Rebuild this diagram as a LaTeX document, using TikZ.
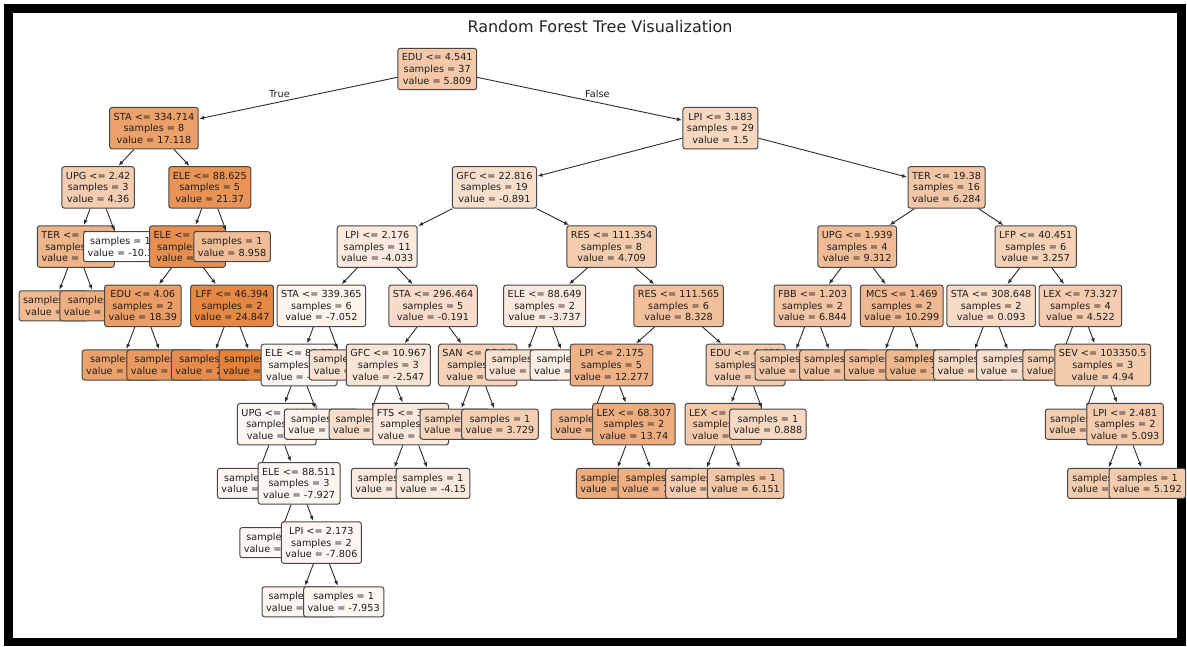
\documentclass[tikz,border=0pt]{standalone}
\usepackage{fontspec}
\setmainfont{DejaVu Sans}
\usetikzlibrary{arrows.meta}
\definecolor{orng}{RGB}{229,129,57}
\definecolor{edgec}{RGB}{45,45,45}
\definecolor{txtc}{RGB}{30,30,30}
\tikzset{
  tbox/.style={draw=black!72, line width=1pt, rounded corners=2.5pt, align=center,
    inner xsep=4pt, inner ysep=5.5pt, font=\fontsize{9.7}{11.6}\selectfont, text=txtc},
  tedge/.style={draw=edgec, line width=0.9pt, -{Latex[length=5pt,width=4pt]}, shorten >=0.5pt},
  elabel/.style={font=\fontsize{9.7}{11.6}\selectfont, text=txtc, inner sep=0pt},
}
% #1 name, #2 parent, #3 grid x, #4 level, #5 value (colour), #6 text
\newcommand{\tnode}[6]{%
  \pgfmathsetmacro\tpct{max(0,min(100,(#5+10.3)/36.8*100))}%
  \node[tbox,fill=orng!\tpct!white] (#1) at ({53.5+44.65*#3},{69+59.2*#4}) {#6};%
  \ifx\relax#2\relax\else\draw[tedge] (#2) -- (#1);\fi
}
\begin{document}
\begin{tikzpicture}[x=1pt,y=-1pt]
\fill[white] (0,0) rectangle (1187,646);
\useasboundingbox (0,0) rectangle (1187,646);
\draw[line width=8.5pt] (8.5,8.5) rectangle (1181.5,642);
\node[font=\fontsize{16}{19}\selectfont, text=black!85, anchor=base] (title) at (600,32) {Random Forest Tree Visualization};

\tnode{root}{}{8.59375}{0}{5.809}{EDU <= 4.541\\samples = 37\\value = 5.809}
\tnode{sta1}{root}{2.25}{1}{17.118}{STA <= 334.714\\samples = 8\\value = 17.118}
\tnode{upg1}{sta1}{1}{2}{4.36}{UPG <= 2.42\\samples = 3\\value = 4.36}
\tnode{ter1}{upg1}{0.5}{3}{11.64}{TER <= 18.95\\samples = 2\\value = 11.64}
\tnode{lf1}{ter1}{0}{4}{9.8}{samples = 1\\value = 9.8}
\tnode{lf2}{ter1}{1}{4}{13.48}{samples = 1\\value = 13.48}
\tnode{lf3}{upg1}{1.5}{3}{-10.3}{samples = 1\\value = -10.3}
\tnode{ele1}{sta1}{3.5}{2}{21.37}{ELE <= 88.625\\samples = 5\\value = 21.37}
\tnode{ele2}{ele1}{3}{3}{22.6}{ELE <= 87.93\\samples = 4\\value = 22.6}
\tnode{edu2}{ele2}{2}{4}{18.39}{EDU <= 4.06\\samples = 2\\value = 18.39}
\tnode{lf4}{edu2}{1.5}{5}{17.23}{samples = 1\\value = 17.23}
\tnode{lf5}{edu2}{2.5}{5}{19.55}{samples = 1\\value = 19.55}
\tnode{lff}{ele2}{4}{4}{24.847}{LFF <= 46.394\\samples = 2\\value = 24.847}
\tnode{lf6}{lff}{3.5}{5}{23.19}{samples = 1\\value = 23.19}
\tnode{lf7}{lff}{4.5}{5}{26.5}{samples = 1\\value = 26.5}
\tnode{lf8}{ele1}{4}{3}{8.958}{samples = 1\\value = 8.958}
\tnode{lpi1}{root}{14.9375}{1}{1.5}{LPI <= 3.183\\samples = 29\\value = 1.5}
\tnode{gfc1}{lpi1}{9.875}{2}{-0.891}{GFC <= 22.816\\samples = 19\\value = -0.891}
\tnode{lpi2}{gfc1}{7.25}{3}{-4.033}{LPI <= 2.176\\samples = 11\\value = -4.033}
\tnode{sta2}{lpi2}{6}{4}{-7.052}{STA <= 339.365\\samples = 6\\value = -7.052}
\tnode{ele3}{sta2}{5.5}{5}{-7.52}{ELE <= 88.37\\samples = 5\\value = -7.52}
\tnode{upg2}{ele3}{5}{6}{-7.8}{UPG <= 2.085\\samples = 4\\value = -7.8}
\tnode{lf9}{upg2}{4.5}{7}{-7.61}{samples = 1\\value = -7.61}
\tnode{ele4}{upg2}{5.5}{7}{-7.927}{ELE <= 88.511\\samples = 3\\value = -7.927}
\tnode{lf10}{ele4}{5}{8}{-8.14}{samples = 1\\value = -8.14}
\tnode{lpi3}{ele4}{6}{8}{-7.806}{LPI <= 2.173\\samples = 2\\value = -7.806}
\tnode{lf11}{lpi3}{5.5}{9}{-7.66}{samples = 1\\value = -7.66}
\tnode{lf12}{lpi3}{6.5}{9}{-7.953}{samples = 1\\value = -7.953}
\tnode{lf13}{ele3}{6}{6}{-6.34}{samples = 1\\value = -6.34}
\tnode{lf14}{sta2}{6.5}{5}{-1.2}{samples = 1\\value = -1.2}
\tnode{sta3}{lpi2}{8.5}{4}{-0.191}{STA <= 296.464\\samples = 5\\value = -0.191}
\tnode{gfc2}{sta3}{7.5}{5}{-2.547}{GFC <= 10.967\\samples = 3\\value = -2.547}
\tnode{lf15}{gfc2}{7}{6}{-0.46}{samples = 1\\value = -0.46}
\tnode{fts}{gfc2}{8}{6}{-4.02}{FTS <= 36.82\\samples = 2\\value = -4.02}
\tnode{lf16}{fts}{7.5}{7}{-3.87}{samples = 1\\value = -3.87}
\tnode{lf17}{fts}{8.5}{7}{-4.15}{samples = 1\\value = -4.15}
\tnode{san}{sta3}{9.5}{5}{2.85}{SAN <= 53.26\\samples = 2\\value = 2.85}
\tnode{lf18}{san}{9}{6}{1.94}{samples = 1\\value = 1.94}
\tnode{lf19}{san}{10}{6}{3.729}{samples = 1\\value = 3.729}
\tnode{res1}{gfc1}{12.5}{3}{4.709}{RES <= 111.354\\samples = 8\\value = 4.709}
\tnode{ele5}{res1}{11}{4}{-3.737}{ELE <= 88.649\\samples = 2\\value = -3.737}
\tnode{lf20}{ele5}{10.5}{5}{-1.95}{samples = 1\\value = -1.95}
\tnode{lf21}{ele5}{11.5}{5}{-5.52}{samples = 1\\value = -5.52}
\tnode{res2}{res1}{14}{4}{8.328}{RES <= 111.565\\samples = 6\\value = 8.328}
\tnode{lpi4}{res2}{12.5}{5}{12.277}{LPI <= 2.175\\samples = 5\\value = 12.277}
\tnode{lf22}{lpi4}{12}{6}{10.36}{samples = 1\\value = 10.36}
\tnode{lex1}{lpi4}{13}{6}{13.74}{LEX <= 68.307\\samples = 2\\value = 13.74}
\tnode{lf23}{lex1}{12.5}{7}{14.5}{samples = 1\\value = 14.5}
\tnode{lf24}{lex1}{13.5}{7}{12.98}{samples = 1\\value = 12.98}
\tnode{edu3}{res2}{15.5}{5}{4.82}{EDU <= 4.655\\samples = 2\\value = 4.82}
\tnode{lex2}{edu3}{15}{6}{5.57}{LEX <= 70.64\\samples = 2\\value = 5.57}
\tnode{lf25}{lex2}{14.5}{7}{4.83}{samples = 1\\value = 4.83}
\tnode{lf26}{lex2}{15.5}{7}{6.151}{samples = 1\\value = 6.151}
\tnode{lf27}{edu3}{16}{6}{0.888}{samples = 1\\value = 0.888}
\tnode{ter2}{lpi1}{20}{2}{6.284}{TER <= 19.38\\samples = 16\\value = 6.284}
\tnode{upg3}{ter2}{18}{3}{9.312}{UPG <= 1.939\\samples = 4\\value = 9.312}
\tnode{fbb}{upg3}{17}{4}{6.844}{FBB <= 1.203\\samples = 2\\value = 6.844}
\tnode{lf28}{fbb}{16.5}{5}{5.92}{samples = 1\\value = 5.92}
\tnode{lf29}{fbb}{17.5}{5}{7.61}{samples = 1\\value = 7.61}
\tnode{mcs}{upg3}{19}{4}{10.299}{MCS <= 1.469\\samples = 2\\value = 10.299}
\tnode{lf30}{mcs}{18.5}{5}{9.47}{samples = 1\\value = 9.47}
\tnode{lf31}{mcs}{19.5}{5}{11.13}{samples = 1\\value = 11.13}
\tnode{lfp}{ter2}{22}{3}{3.257}{LFP <= 40.451\\samples = 6\\value = 3.257}
\tnode{sta4}{lfp}{21}{4}{0.093}{STA <= 308.648\\samples = 2\\value = 0.093}
\tnode{lf32}{sta4}{20.5}{5}{0.98}{samples = 1\\value = 0.98}
\tnode{lf33}{sta4}{21.5}{5}{-0.79}{samples = 1\\value = -0.79}
\tnode{lex3}{lfp}{23}{4}{4.522}{LEX <= 73.327\\samples = 4\\value = 4.522}
\tnode{lf34}{lex3}{22.5}{5}{3.46}{samples = 1\\value = 3.46}
\tnode{sev}{lex3}{23.5}{5}{4.94}{SEV <= 103350.5\\samples = 3\\value = 4.94}
\tnode{lf35}{sev}{23}{6}{4.63}{samples = 1\\value = 4.63}
\tnode{lpi5}{sev}{24}{6}{5.093}{LPI <= 2.481\\samples = 2\\value = 5.093}
\tnode{lf36}{lpi5}{23.5}{7}{4.98}{samples = 1\\value = 4.98}
\tnode{lf37}{lpi5}{24.5}{7}{5.192}{samples = 1\\value = 5.192}

\node[elabel, anchor=base east] (truelbl) at (290,97) {True};
\node[elabel, anchor=base west] (falselbl) at (585,97) {False};
\end{tikzpicture}
\end{document}
